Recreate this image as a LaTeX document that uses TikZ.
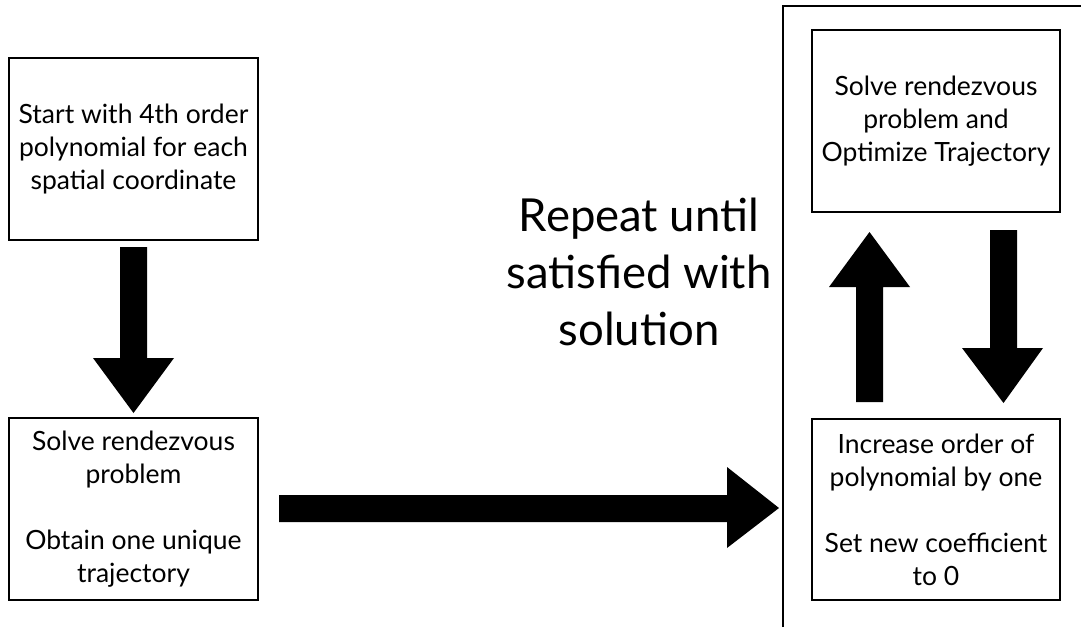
\documentclass[tikz,border=0pt]{standalone}
\usepackage{fontspec}
\setmainfont{Lato}
\begin{document}
\begin{tikzpicture}[x=1pt,y=-1pt,
  stepbox/.style={draw=black, line width=1.8pt, minimum width=249pt, minimum height=182pt,
    inner sep=0pt, align=center, font=\fontsize{26.5}{33}\selectfont},
  bigarrow/.style={fill=black, draw=none}]
\useasboundingbox (0,0) rectangle (1081,627);
\fill[white] (0,0) rectangle (1081,627);
% outer frame (clipped on the right and bottom)
\coordinate (fbl) at (783,627);
\coordinate (ftl) at (783,6);
\coordinate (ftr) at (1081,6);
\draw[line width=1.8pt] (fbl) -- (ftl) -- (ftr);
% boxes
\node[stepbox] (start) at (133.5,149) {Start with 4th order\\polynomial for each\\spatial coordinate};
\node[stepbox] (solve) at (133.5,509) {Solve rendezvous\\problem\\[33pt]Obtain one unique\\trajectory};
\node[stepbox, minimum width=248pt] (opt) at (936,121) {Solve rendezvous\\problem and\\Optimize Trajectory};
\node[stepbox, minimum width=248pt, minimum height=181pt] (inc) at (936,509.5) {Increase order of\\polynomial by one\\[33pt]Set new coefficient\\to 0};
% middle label
\node[align=center, font=\fontsize{45.5}{57}\selectfont] (rep) at (639,272) {Repeat until\\satisfied with\\solution};
% block arrows
% start -> solve
\fill[bigarrow] (120,247) -- (147,247) -- (147,358) -- (174,358) -- (133.5,413) -- (93,358) -- (120,358) -- cycle;
% solve -> inc
\fill[bigarrow] (279,495) -- (727,495) -- (727,467) -- (779,508) -- (727,548) -- (727,522) -- (279,522) -- cycle;
% inc -> opt
\fill[bigarrow] (856,402) -- (856,287) -- (829,287) -- (869.5,232) -- (910,287) -- (883,287) -- (883,402) -- cycle;
% opt -> inc
\fill[bigarrow] (990,230) -- (1017,230) -- (1017,348) -- (1043,348) -- (1003.5,403) -- (962,348) -- (990,348) -- cycle;
\end{tikzpicture}
\end{document}
